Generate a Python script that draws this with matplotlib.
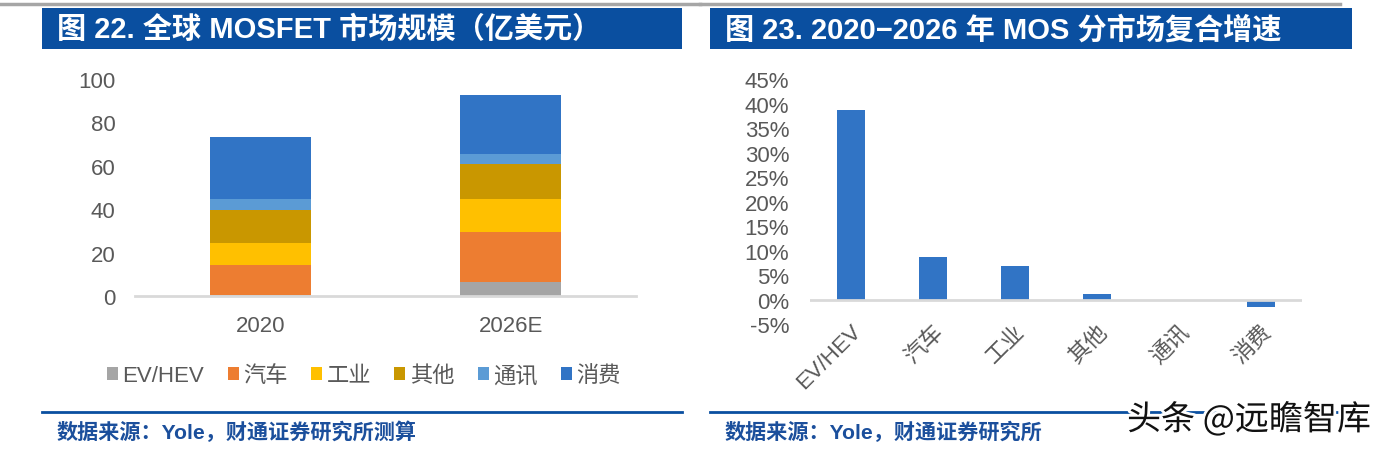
import matplotlib
matplotlib.use("Agg")
import matplotlib.pyplot as plt
import numpy as np
from matplotlib.patches import Rectangle, Patch
from matplotlib.lines import Line2D
from matplotlib.ticker import FuncFormatter, MultipleLocator
import matplotlib.patheffects as pe

# ---------------- data ----------------
years = ["2020", "2026E"]
segments = ["EV/HEV", "汽车", "工业", "其他", "通讯", "消费"]
ev_hev = [0.5, 6.6]
auto = [14.0, 23.0]
industrial = [10.0, 15.0]
other = [15.0, 16.0]
telecom = [5.0, 5.0]
consumer = [29.0, 27.0]

cagr_labels = ["EV/HEV", "汽车", "工业", "其他", "通讯", "消费"]
cagr_values = [38.6, 8.7, 7.0, 1.2, 0.0, -1.5]

seg_colors = ["#A5A5A5", "#ED7D31", "#FFC000", "#C99700", "#5B9BD5", "#3174C5"]

# ---------------- figure ----------------
W, H = 1381, 456
fig = plt.figure(figsize=(W / 100, H / 100), dpi=100)
fam = ["Liberation Sans", "Noto Sans CJK SC", "DejaVu Sans"]
cjk = ["Noto Sans CJK SC", "DejaVu Sans"]
plt.rcParams["font.family"] = fam

def fx(x):
    return x / W

def fy(y):
    return 1 - y / H

def box(x0, y0, x1, y1):
    return [fx(x0), fy(y1), fx(x1) - fx(x0), fy(y0) - fy(y1)]

band = "#0A4FA0"
txtgray = "#595959"

# decoration: top gray lines, title bands, footer lines
fig.add_artist(Line2D([fx(0), fx(700)], [fy(5), fy(5)], color="#A6A6A6", lw=2.5))
fig.add_artist(Line2D([fx(700), fx(1340)], [fy(5), fy(5)], color="#A6A6A6", lw=2.5))
fig.add_artist(Rectangle((fx(42), fy(50)), fx(682) - fx(42), fy(9) - fy(50),
                         transform=fig.transFigure, color=band, lw=0))
fig.add_artist(Rectangle((fx(710), fy(50)), fx(1352) - fx(710), fy(9) - fy(50),
                         transform=fig.transFigure, color=band, lw=0))
fig.text(fx(57), fy(30), "图 22. 全球 MOSFET 市场规模（亿美元）", color="white",
         fontsize=21, family=fam, va="center", ha="left", fontweight="bold")
fig.text(fx(725), fy(30), "图 23. 2020−2026 年 MOS 分市场复合增速", color="white",
         fontsize=21, family=fam, va="center", ha="left", fontweight="bold")

fig.add_artist(Line2D([fx(42), fx(682)], [fy(413), fy(413)], color=band, lw=2))
fig.add_artist(Line2D([fx(710), fx(1352)], [fy(413), fy(413)], color=band, lw=2))
fig.text(fx(57), fy(432), "数据来源：Yole，财通证券研究所测算", color="#1B4F9C",
         fontsize=15.2, family=fam, fontweight="bold", va="center", ha="left")
fig.text(fx(725), fy(432), "数据来源：Yole，财通证券研究所", color="#1B4F9C",
         fontsize=15.2, family=fam, fontweight="bold", va="center", ha="left")

# ---------------- left chart: stacked bars ----------------
ax1 = fig.add_axes(box(135, 80, 636, 297))
x = np.arange(len(years))
bottom = np.zeros(len(years))
series = [ev_hev, auto, industrial, other, telecom, consumer]
for vals, c, name in zip(series, seg_colors, segments):
    ax1.bar(x, vals, width=0.405, bottom=bottom, color=c, label=name, zorder=2)
    bottom += np.array(vals)
ax1.set_xlim(-0.5, 1.5)
ax1.set_ylim(0, 100)
ax1.yaxis.set_major_locator(MultipleLocator(20))
ax1.set_xticks(x)
ax1.set_xticklabels(years)
for s in ["top", "right", "left"]:
    ax1.spines[s].set_visible(False)
ax1.spines["bottom"].set_color("#D9D9D9")
ax1.spines["bottom"].set_linewidth(2)
ax1.spines["bottom"].set_zorder(3)
ax1.tick_params(axis="both", length=0, labelsize=16, labelcolor=txtgray)
ax1.tick_params(axis="y", pad=14)
ax1.tick_params(axis="x", pad=14)

handles = [Patch(facecolor=c, edgecolor="none") for c in seg_colors]
leg = fig.legend(handles, segments, loc="center", bbox_to_anchor=(fx(364), fy(377)),
                 ncol=6, frameon=False, fontsize=16, handlelength=0.5, handleheight=0.5,
                 handletextpad=0.2, columnspacing=1.05, borderaxespad=0)
for t in leg.get_texts():
    t.set_color(txtgray)
    t.set_family(fam)

# ---------------- right chart: CAGR bars ----------------
ax2 = fig.add_axes(box(810, 80, 1302, 325.5))
x2 = np.arange(len(cagr_labels))
ax2.bar(x2, cagr_values, width=0.33, color="#3174C5", zorder=2)
ax2.axhline(0, color="#D9D9D9", lw=2, zorder=3)
ax2.set_xlim(-0.5, 5.5)
ax2.set_ylim(-5, 45)
ax2.yaxis.set_major_locator(MultipleLocator(5))
ax2.yaxis.set_major_formatter(FuncFormatter(lambda v, p: f"{int(round(v))}%"))
for s in ["top", "right", "left", "bottom"]:
    ax2.spines[s].set_visible(False)
ax2.set_xticks(x2)
ax2.set_xticklabels(cagr_labels, rotation=45, ha="right", va="top", rotation_mode="anchor")
ax2.tick_params(axis="both", length=0, labelsize=16, labelcolor=txtgray)
ax2.tick_params(axis="y", pad=15)
ax2.tick_params(axis="x", pad=-3)
for t in ax2.get_xticklabels():
    t.set_family(fam)

# watermark
fig.text(fx(1127), fy(421), "头条 @远瞻智库", color="#111111", fontsize=24.5, family=cjk,
         va="center", ha="left",
         path_effects=[pe.withStroke(linewidth=4, foreground="white")])

fig.savefig("out.png", dpi=100)
